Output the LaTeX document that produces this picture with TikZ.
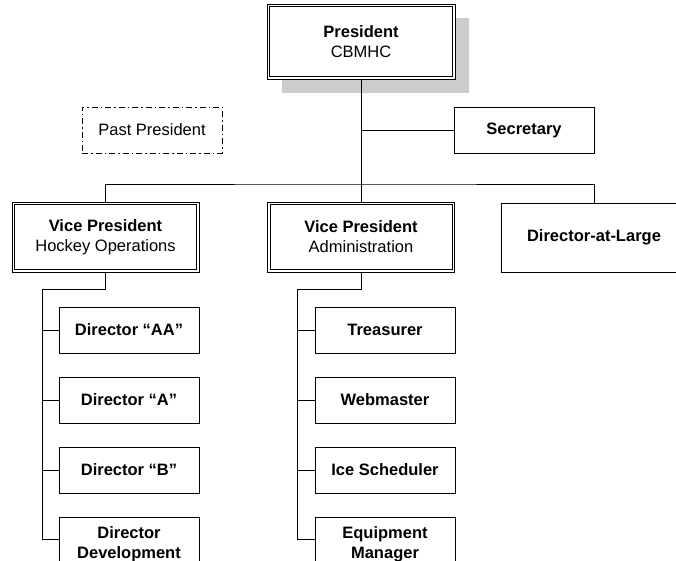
\documentclass[tikz,border=0pt]{standalone}
\usepackage{fontspec}
\setmainfont{Liberation Sans}
\usetikzlibrary{calc}
\begin{document}
\begin{tikzpicture}[x=1pt,y=-1pt,
  every node/.style={align=center,font=\fontsize{16.5}{20}\selectfont},
  box/.style={draw=black,line width=0.9pt,fill=white,inner sep=0pt,minimum width=140pt,minimum height=46pt},
  dbox/.style={draw=black,line width=0.8pt,fill=white,inner sep=0pt},
  inner/.style={draw=black,line width=0.7pt},
  pastbox/.style={draw=black,line width=0.8pt,dash pattern=on 6pt off 3pt on 1.5pt off 3pt,inner sep=0pt,minimum width=140pt,minimum height=46pt},
  conn/.style={draw=black,line width=0.9pt}]
\useasboundingbox (0,0) rectangle (676,561);
\clip (0,0) rectangle (676,561);
% shadow of president
\fill[black!20] (282,18) rectangle (469,93);
% nodes
\node[dbox,minimum width=188pt,minimum height=75pt] (pres) at (361,41.5) {\textbf{President}\\CBMHC};
\node[box] (sec) at (524,130) {\textbf{Secretary}};
\node[pastbox] (past) at (152,130) {Past President};
\node[dbox,minimum width=187pt,minimum height=70pt] (vph) at (105.5,237) {\textbf{Vice President}\\Hockey Operations};
\node[dbox,minimum width=187pt,minimum height=70pt] (vpa) at (361,237) {\textbf{Vice President}\\Administration};
\node[box,minimum width=186pt,minimum height=69pt] (dal) at (594,237.5) {\textbf{Director-at-Large}};
\node[box] (daa) at (129,330) {\textbf{Director “AA”}};
\node[box] (da) at (129,400) {\textbf{Director “A”}};
\node[box] (db) at (129,470) {\textbf{Director “B”}};
\node[box,minimum height=54pt] (dev) at (129,544) {\textbf{Director}\\\textbf{Development}};
\node[box] (tre) at (385,330) {\textbf{Treasurer}};
\node[box] (web) at (385,400) {\textbf{Webmaster}};
\node[box] (ice) at (385,470) {\textbf{Ice Scheduler}};
\node[box,minimum height=54pt] (equ) at (385,544) {\textbf{Equipment}\\\textbf{Manager}};
% inner lines of double borders
\foreach \n in {pres,vph,vpa}
  \draw[inner] ([shift={(3pt,-3pt)}]\n.north west) rectangle ([shift={(-3pt,3pt)}]\n.south east);
% connectors
\coordinate (bus) at (361,184);
\coordinate (sj) at (361,130);
\coordinate (hs) at (42,289);
\coordinate (as) at (297,289);
\draw[conn] (pres.south) -- (vpa.north);
\draw[conn] (sj) -- (sec.west);
\draw[conn] (vph.north) |- (bus) -| (dal.north);
\draw[conn] (vph.south) |- (hs) |- ([yshift=5pt]dev.west);
\draw[conn] (hs |- daa.west) -- (daa.west);
\draw[conn] (hs |- da.west) -- (da.west);
\draw[conn] (hs |- db.west) -- (db.west);
\draw[conn] (vpa.south) |- (as) |- ([yshift=5pt]equ.west);
\draw[conn] (as |- tre.west) -- (tre.west);
\draw[conn] (as |- web.west) -- (web.west);
\draw[conn] (as |- ice.west) -- (ice.west);
\end{tikzpicture}
\end{document}
